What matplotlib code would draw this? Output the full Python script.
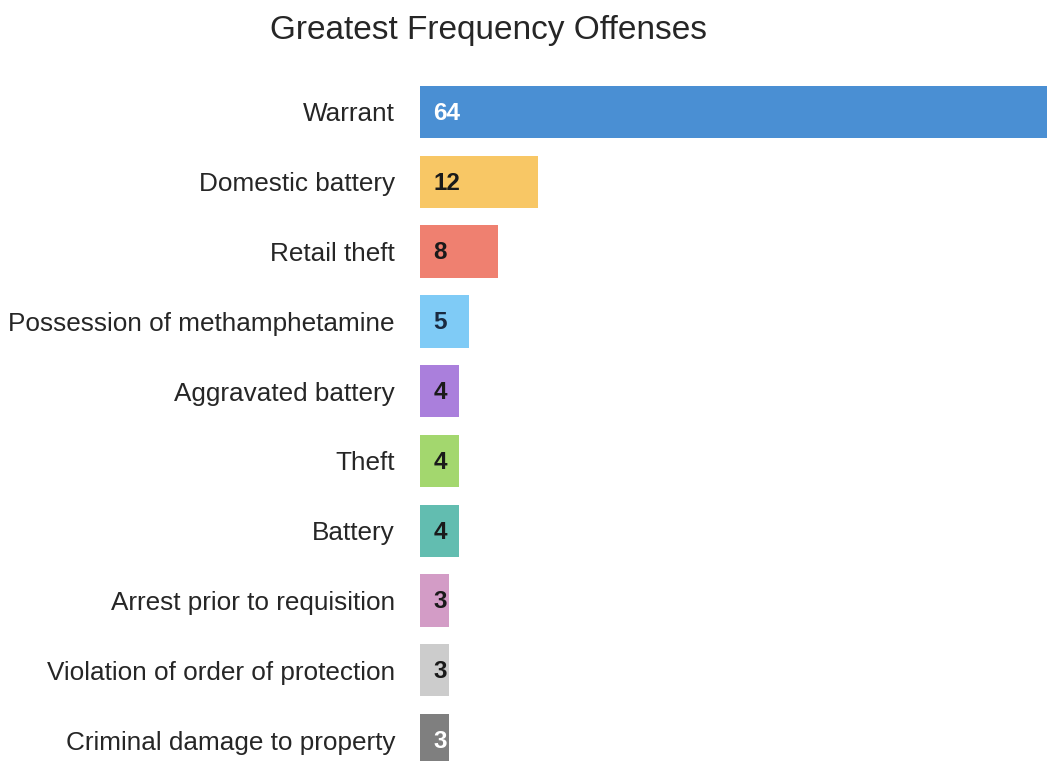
import matplotlib
matplotlib.use('Agg')
import matplotlib.pyplot as plt

offenses = ["Warrant", "Domestic battery", "Retail theft",
            "Possession of methamphetamine", "Aggravated battery", "Theft",
            "Battery", "Arrest prior to requisition",
            "Violation of order of protection", "Criminal damage to property"]
counts = [64, 12, 8, 5, 4, 4, 4, 3, 3, 3]
colors = ["#4a8fd3", "#f8c765", "#ef8070", "#7fcbf6", "#aa7fdc",
          "#a3d76e", "#62bdb0", "#d39cc6", "#cccccc", "#7f7f7f"]
label_colors = ["white", "#1a1a1a", "#1a1a1a", "#1a2a40", "#1a1a1a",
                "#1a1a1a", "#1a1a1a", "#1a1a1a", "#1a1a1a", "white"]

plt.rcParams['font.family'] = ['Liberation Sans', 'DejaVu Sans']

fig = plt.figure(figsize=(10.47, 7.61), dpi=100)
ax = fig.add_axes([420 / 1047, 0, 627 / 1047, 701 / 761])

ypos = list(range(len(offenses)))
ax.barh(ypos, counts, height=0.75, color=colors)
ax.set_xlim(0, 64)
ax.set_ylim(9.30, -0.745)

for y, c, lc in zip(ypos, counts, label_colors):
    ax.annotate(str(c), xy=(0, y), xytext=(9.5, -1), textcoords='offset points',
                ha='left', va='center', fontsize=17.5, fontweight='bold',
                color=lc)

ax.set_yticks(ypos)
ax.set_yticklabels(offenses, fontsize=18.8, color='#262626')
ax.tick_params(axis='y', length=0, pad=18)
ax.set_xticks([])
for s in ax.spines.values():
    s.set_visible(False)

fig.text(488 / 1047, 1 - 31 / 761, "Greatest Frequency Offenses",
         ha='center', va='center', fontsize=24, color='#262626')

fig.savefig("out.png", dpi=100)
